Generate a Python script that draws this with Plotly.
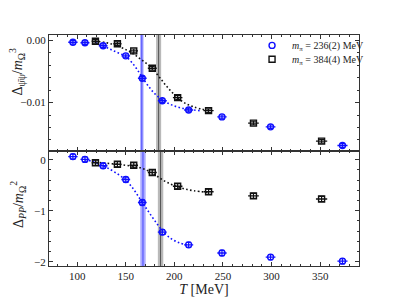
import plotly.graph_objects as go
from plotly.subplots import make_subplots

# ---- data ----
T_blue = [95.6, 108, 126.7, 150, 167, 187.6, 214.7, 249, 299, 373]
T_blue_err = [4.8, 4.6, 4.5, 4.5, 4.5, 4.6, 4.7, 4.8, 5.0, 5.2]
cond_blue = [-0.00032, -0.0004, -0.00087, -0.0025, -0.0061, -0.0097, -0.0112, -0.0123, -0.0139, -0.0169]
cond_blue_err = [0.0003] * 10
pp_blue = [0.06, 0.005, -0.12, -0.39, -0.84, -1.42, -1.67, -1.83, -1.91, -1.99]
pp_blue_err = [0.05] * 10

T_black = [118.8, 141.4, 158.2, 177.3, 203.4, 235.2, 281.4, 351.5]
T_black_err = [3.9, 4.2, 4.4, 4.6, 4.9, 5.2, 5.5, 5.8]
cond_black = [-0.00016, -0.00055, -0.0017, -0.0045, -0.0092, -0.0113, -0.0133, -0.0162]
cond_black_err = [0.0003] * 8
pp_black = [-0.06, -0.09, -0.11, -0.25, -0.52, -0.63, -0.71, -0.77]
pp_black_err = [0.05] * 8

# fit curves
fitT_cond_blue = [119, 127, 134, 142, 150, 157, 163, 168, 174, 180, 188, 196, 205, 215, 226]
fit_cond_blue = [-0.0004, -0.0009, -0.00145, -0.002, -0.0026, -0.0037, -0.005, -0.0062, -0.0075,
                 -0.0086, -0.0096, -0.0103, -0.0108, -0.0111, -0.0113]
fitT_cond_black = [118, 130, 140, 150, 158, 165, 172, 177, 184, 190, 196, 202, 210, 220, 235]
fit_cond_black = [-0.0001, -0.0004, -0.0008, -0.0015, -0.0022, -0.003, -0.0038, -0.0045, -0.0058,
                  -0.007, -0.0081, -0.009, -0.01, -0.0107, -0.0113]
fitT_pp_blue = [108, 115, 122, 130, 140, 150, 158, 165, 172, 180, 188, 196, 205, 215]
fit_pp_blue = [0.0, -0.03, -0.08, -0.15, -0.26, -0.4, -0.58, -0.78, -0.98, -1.2, -1.4, -1.54, -1.63, -1.68]
fitT_pp_black = [119, 130, 141, 150, 158, 165, 172, 178, 185, 192, 200, 210, 220, 235]
fit_pp_black = [-0.05, -0.07, -0.09, -0.11, -0.13, -0.16, -0.21, -0.27, -0.36, -0.44, -0.51, -0.57, -0.61, -0.64]

# pseudo-critical temperature bands: (centre, half width) per panel
Tc_blue = [(166.5, 1.8), (167.7, 2.8)]
Tc_black = [(183.8, 2.6), (185.8, 2.8)]

labels = ["<i>m</i><sub>π</sub> = 236(2) MeV", "<i>m</i><sub>π</sub> = 384(4) MeV"]
ytitles = ["Δ<sub>ψ̄ψ</sub>/<i>m</i><sub>Ω</sub><sup>3</sup>", "Δ<sub><i>PP</i></sub>/<i>m</i><sub>Ω</sub><sup>2</sup>"]

BLUE = "#1010ff"
BLACK = "#111111"
FONT = "Liberation Serif"

fig = make_subplots(rows=2, cols=1, shared_xaxes=True, vertical_spacing=0)

# fit curves
dot = dict(dash="1.6px,2.4px", width=1.6, shape="spline")
fig.add_trace(go.Scatter(x=fitT_cond_blue, y=fit_cond_blue, mode="lines", line=dict(color=BLUE, **dot), showlegend=False), row=1, col=1)
fig.add_trace(go.Scatter(x=fitT_cond_black, y=fit_cond_black, mode="lines", line=dict(color=BLACK, **dot), showlegend=False), row=1, col=1)
fig.add_trace(go.Scatter(x=fitT_pp_blue, y=fit_pp_blue, mode="lines", line=dict(color=BLUE, **dot), showlegend=False), row=2, col=1)
fig.add_trace(go.Scatter(x=fitT_pp_black, y=fit_pp_black, mode="lines", line=dict(color=BLACK, **dot), showlegend=False), row=2, col=1)


def pts(x, xe, y, ye, color, symbol, name, show, row, legend):
    fig.add_trace(go.Scatter(
        x=x, y=y, mode="markers", name=name, showlegend=show, legend=legend,
        marker=dict(symbol=symbol, size=6, color=color, line=dict(color=color, width=1.4)),
        error_x=dict(type="data", array=xe, color=color, thickness=1.4, width=0),
        error_y=dict(type="data", array=ye, color=color, thickness=1.2, width=2.5),
    ), row=row, col=1)


pts(T_blue, T_blue_err, cond_blue, cond_blue_err, BLUE, "circle-open", labels[0], True, 1, "legend")
pts(T_black, T_black_err, cond_black, cond_black_err, BLACK, "square-open", labels[1], True, 1, "legend2")
pts(T_blue, T_blue_err, pp_blue, pp_blue_err, BLUE, "circle-open", labels[0], False, 2, "legend")
pts(T_black, T_black_err, pp_black, pp_black_err, BLACK, "square-open", labels[1], False, 2, "legend2")

# bands (added after traces so every subplot receives them)
for row in (1, 2):
    c, w = Tc_blue[row - 1]
    fig.add_vrect(x0=c - w, x1=c + w, fillcolor="rgba(70,70,255,0.45)", line_width=0, layer="below",
                  row=row, col=1, exclude_empty_subplots=False)
    fig.add_vline(x=c, line=dict(color="rgba(40,40,255,0.75)", width=1), layer="below",
                  row=row, col=1, exclude_empty_subplots=False)
    c, w = Tc_black[row - 1]
    fig.add_vrect(x0=c - w, x1=c + w, fillcolor="rgba(100,100,100,0.45)", line_width=0, layer="below",
                  row=row, col=1, exclude_empty_subplots=False)
    fig.add_vline(x=c, line=dict(color="rgba(50,50,50,0.75)", width=1), layer="below",
                  row=row, col=1, exclude_empty_subplots=False)

axis_common = dict(
    showline=True, linecolor="#333", linewidth=1, mirror="allticks",
    ticks="inside", ticklen=4, tickwidth=1, tickcolor="#333",
    showgrid=False, zeroline=False, automargin=False,
    tickfont=dict(family=FONT, size=11, color="#222"),
)

fig.update_xaxes(**axis_common, range=[71, 390], dtick=50, tick0=0,
                 minor=dict(ticks="inside", dtick=10, ticklen=2, tickcolor="#333", showgrid=False))
fig.update_xaxes(showticklabels=False, row=1, col=1)
fig.update_xaxes(title=dict(text="<i>T</i> [MeV]", font=dict(family=FONT, size=14, color="#222"), standoff=0), row=2, col=1)

fig.update_yaxes(**axis_common)
fig.update_yaxes(range=[-0.0177, 0.00085], tickvals=[0, -0.01], ticktext=["0.00", "−0.01"],
                 minor=dict(ticks="inside", dtick=0.002, tick0=0, ticklen=2, tickcolor="#333", showgrid=False),
                 domain=[0.5, 1.0], row=1, col=1)
fig.update_yaxes(range=[-2.085, 0.18], tickvals=[0, -1, -2], ticktext=["0", "−1", "−2"],
                 minor=dict(ticks="inside", dtick=0.2, tick0=0, ticklen=2, tickcolor="#333", showgrid=False),
                 domain=[0.0, 0.5], row=2, col=1)

# y-axis titles as rotated annotations
for txt, yc in zip(ytitles, [0.842, 0.264]):
    fig.add_annotation(text=txt, xref="paper", yref="paper", x=-0.1, y=yc,
                       xanchor="center", yanchor="middle", textangle=-90, showarrow=False,
                       font=dict(family=FONT, size=14, color="#222"))

leg = dict(xanchor="left", yanchor="middle", bgcolor="rgba(0,0,0,0)",
           font=dict(family=FONT, size=10, color="#222"), itemwidth=30, borderwidth=0)
fig.update_layout(
    width=391, height=291,
    margin=dict(l=41, r=40, t=27, b=33, autoexpand=False),
    paper_bgcolor="white", plot_bgcolor="white",
    legend=dict(**leg, x=0.655, y=0.955),
    legend2=dict(**leg, x=0.655, y=0.895),
    font=dict(family=FONT),
)

fig.write_html("out.html")
